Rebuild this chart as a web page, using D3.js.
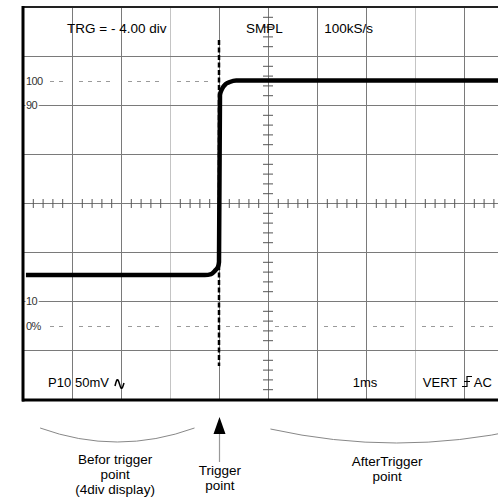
<!DOCTYPE html>
<html><head><meta charset="utf-8">
<script src="https://cdn.jsdelivr.net/npm/d3@7"></script>
<style>
html,body{margin:0;padding:0;background:#fff;}
svg{display:block;font-family:"Liberation Sans",Arial,sans-serif;}
</style></head>
<body>
<script>
// ---- data ----
const waveTime  = [0.06, 3.71, 3.84, 3.92, 3.98, 4.0, 4.02, 4.06, 4.14, 4.22, 4.35, 10];   // divisions
const waveLevel = [20.6, 20.6, 21.0, 22.4, 23.9, 25.9, 94.1, 96.5, 98.6, 99.4, 100, 100]; // percent
const levelLabels = [{v:100,t:"100"},{v:90,t:"90"},{v:10,t:"10"},{v:0,t:"0%"}];
const refLevels = [100, 0];
const triggerDiv = 4;
const headerTexts = [{d:0.9,t:"TRG = - 4.00 div"},{d:4.55,t:"SMPL"},{d:6.15,t:"100kS/s"}];
const footerTexts = [{d:0.51,t:"P10"},{d:1.06,t:"50mV"},{d:6.73,t:"1ms"},{d:8.16,t:"VERT"},{d:9.2,t:"AC"}];
const notes = [
  {d:1.88, lines:["Befor trigger","point","(4div display)"], top:464},
  {d:4.02, lines:["Trigger","point"], top:475},
  {d:7.43, lines:["AfterTrigger","point"], top:466}
];

const W=498,H=497;
const svg=d3.select("body").append("svg").attr("width",W).attr("height",H);
const x=d3.scaleLinear().domain([0,10]).range([23,513]);
const yDiv=d3.scaleLinear().domain([0,8]).range([7,399]);
const yPct=d3.scaleLinear().domain([0,100]).range([yDiv(6.5),yDiv(1.5)]);
const footY=387;

const g=svg.append("g");
// vertical grid
g.selectAll("line.vg").data(d3.range(1,10)).join("line")
  .attr("x1",d=>x(d)+0.5).attr("x2",d=>x(d)+0.5).attr("y1",yDiv(0)).attr("y2",yDiv(8))
  .attr("stroke",d=>(d===3||d===8)?"#c4c4c4":"#7a7a7a").attr("stroke-width",1);
// horizontal grid
g.selectAll("line.hg").data(d3.range(1,8)).join("line")
  .attr("x1",x(0)).attr("x2",W).attr("y1",d=>yDiv(d)+0.5).attr("y2",d=>yDiv(d)+0.5)
  .attr("stroke","#7a7a7a").attr("stroke-width",1);
// center axes minor ticks
const hTicks=d3.range(0,10.01,0.2).filter(d=>Math.abs(d-Math.round(d))>0.01);
g.selectAll("line.ht").data(hTicks).join("line")
  .attr("x1",d=>x(d)+0.5).attr("x2",d=>x(d)+0.5).attr("y1",yDiv(4)-4).attr("y2",yDiv(4)+5)
  .attr("stroke","#555");
const vTicks=d3.range(0,8.01,0.2).filter(d=>Math.abs(d-Math.round(d))>0.01);
g.selectAll("line.vt").data(vTicks).join("line")
  .attr("y1",d=>yDiv(d)+0.5).attr("y2",d=>yDiv(d)+0.5).attr("x1",x(5)-5).attr("x2",x(5)+5)
  .attr("stroke","#555");
// dashed reference lines (100%, 0%)
refLevels.forEach(v=>{
  d3.range(0,10).forEach(d=>{
    const x1 = d===0 ? x(0)+27 : x(d)+7;
    const x2 = d===0 ? x(0)+44 : x(d)+43;
    g.append("line").attr("x1",x1).attr("x2",Math.min(x2,W)).attr("y1",Math.round(yPct(v))+0.5).attr("y2",Math.round(yPct(v))+0.5)
      .attr("stroke","#9a9a9a").attr("stroke-dasharray","4,5");
  });
});
// level labels
g.selectAll("text.lv").data(levelLabels).join("text")
  .attr("x",x(0)+3).attr("y",d=>yPct(d.v)+4)
  .attr("font-size",11).attr("fill","#333").attr("letter-spacing",-0.6)
  .attr("stroke","#fff").attr("stroke-width",3).attr("paint-order","stroke")
  .text(d=>d.t);
// frame
g.append("line").attr("x1",x(0)).attr("x2",W).attr("y1",yDiv(0)).attr("y2",yDiv(0)).attr("stroke","#222").attr("stroke-width",2);
g.append("line").attr("x1",x(0)-1).attr("x2",W).attr("y1",yDiv(8)+1).attr("y2",yDiv(8)+1).attr("stroke","#000").attr("stroke-width",3);
g.append("line").attr("x1",x(0)).attr("x2",x(0)).attr("y1",yDiv(0)-1).attr("y2",yDiv(8)+2.5).attr("stroke","#000").attr("stroke-width",3);
// trigger dashed line
g.append("line").attr("x1",x(triggerDiv)).attr("x2",x(triggerDiv)).attr("y1",40).attr("y2",366)
  .attr("stroke","#000").attr("stroke-width",2.5).attr("stroke-dasharray","5,2.5");
// waveform
const wave=waveTime.map((t,i)=>[t,waveLevel[i]]);
g.append("path").datum(wave)
  .attr("d",d3.line().x(d=>x(d[0])).y(d=>yPct(d[1])).curve(d3.curveMonotoneX))
  .attr("fill","none").attr("stroke","#000").attr("stroke-width",4.5).attr("stroke-linejoin","round").attr("stroke-linecap","butt");
// header / footer texts
g.selectAll("text.hd").data(headerTexts).join("text")
  .attr("x",d=>x(d.d)).attr("y",33).attr("font-size",13.5).attr("fill","#000").text(d=>d.t);
g.selectAll("text.ft").data(footerTexts).join("text")
  .attr("x",d=>x(d.d)).attr("y",footY).attr("font-size",13).attr("fill","#000").text(d=>d.t);
// sine symbol
g.append("path").attr("d",d3.line().curve(d3.curveBasis)(
   [[115,footY-1],[116.5,footY-7],[118,footY-8],[119.5,footY-3],[121,footY+2],[122.5,footY+1],[124,footY-4]]))
  .attr("fill","none").attr("stroke","#000").attr("stroke-width",1.5);
// rising-edge trigger symbol
const gx=x(9.0)-2;
g.append("path").attr("d",`M${gx},${footY-0.5}H${gx+5}V${footY-10.5}H${gx+10}M${gx+2},${footY-5.5}H${gx+8}`)
  .attr("fill","none").attr("stroke","#000").attr("stroke-width",1.2);

// annotation arcs
const arc=(x1,x2,y,sag)=>`M${x1},${y}Q${(x1+x2)/2},${y+2*sag} ${x2},${y}`;
svg.append("path").attr("d",arc(x(0.35),x(3.5),428,14)).attr("fill","none").attr("stroke","#888");
svg.append("path").attr("d",arc(x(5.05),x(10.2),429,14)).attr("fill","none").attr("stroke","#888");
// arrow
svg.append("line").attr("x1",x(triggerDiv)+0.5).attr("x2",x(triggerDiv)+0.5).attr("y1",432).attr("y2",462).attr("stroke","#999").attr("stroke-width",1.2);
svg.append("path").attr("d",`M${x(triggerDiv)+0.5},417L${x(triggerDiv)+6.5},434L${x(triggerDiv)-5.5},434Z`).attr("fill","#000");
// annotation texts
notes.forEach(n=>{
  svg.append("text").attr("x",x(n.d)).attr("y",n.top).attr("text-anchor","middle").attr("font-size",13.5).attr("fill","#000")
    .selectAll("tspan").data(n.lines).join("tspan").attr("x",x(n.d)).attr("dy",(d,i)=>i?15:0).text(d=>d);
});
</script>
</body></html>
